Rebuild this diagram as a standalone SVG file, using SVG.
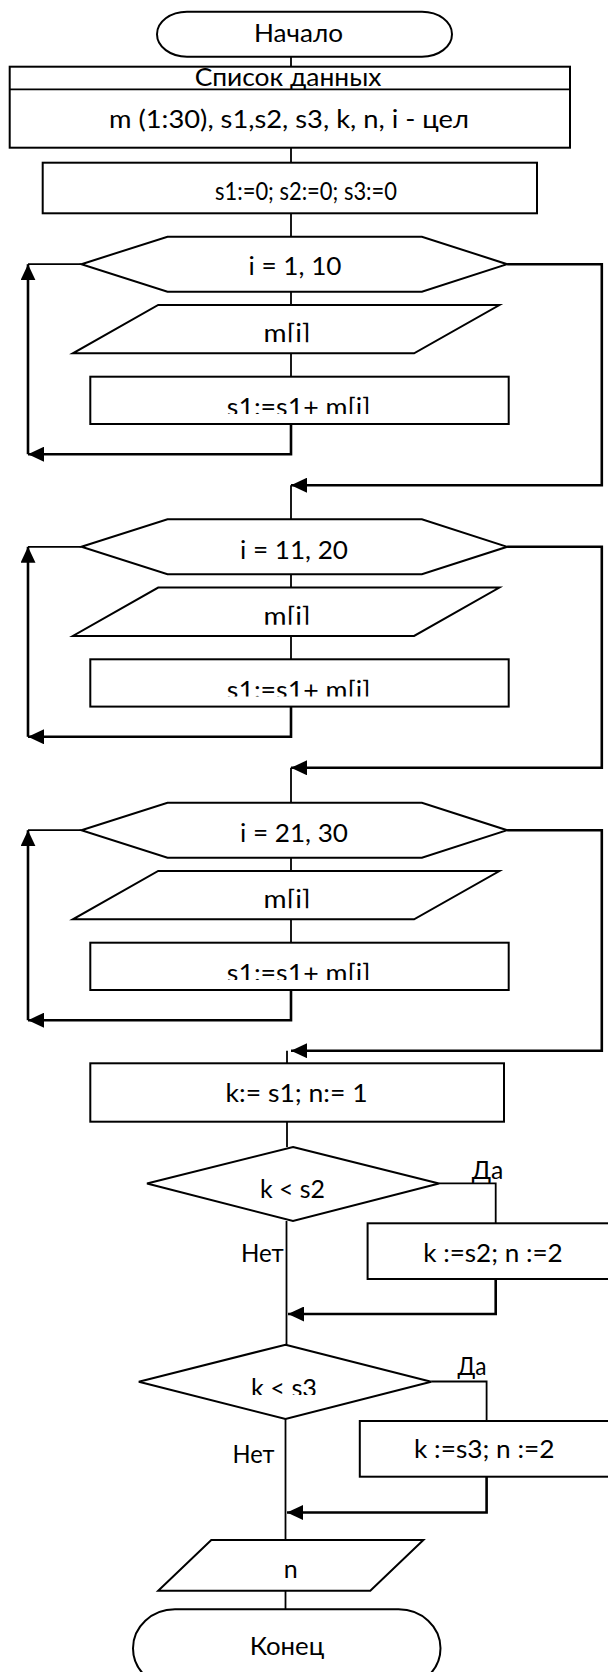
<svg xmlns="http://www.w3.org/2000/svg" width="608" height="1672" viewBox="0 0 608 1672">
<style>
.n{fill:#fff;stroke:#000;stroke-width:2}
.c{fill:none;stroke:#000;stroke-width:1.8}
.a{fill:none;stroke:#000;stroke-width:2.6}
.t{font-family:Lato,"Open Sans","Noto Sans",sans-serif;font-size:25px;fill:#000;text-anchor:middle}
</style>
<defs>
<marker id="ah" markerUnits="userSpaceOnUse" viewBox="0 0 16 15" refX="16" refY="7.5" markerWidth="16" markerHeight="15" orient="auto"><path d="M0,0 L16,7.5 L0,15 z" fill="#000"/></marker>
<clipPath id="cp1"><rect x="60" y="300" width="460" height="42.2"/></clipPath>
<clipPath id="cp2"><rect x="60" y="583" width="460" height="41.8"/></clipPath>
<clipPath id="cp3"><rect x="60" y="866" width="460" height="42.2"/></clipPath>
<clipPath id="cr1"><rect x="90" y="377" width="420" height="37"/></clipPath>
<clipPath id="cr2"><rect x="90" y="660" width="420" height="36.6"/></clipPath>
<clipPath id="cr3"><rect x="90" y="943" width="420" height="37"/></clipPath>
<clipPath id="cd2"><rect x="140" y="1345" width="290" height="50"/></clipPath>
</defs>
<rect width="608" height="1672" fill="#fff"/>
<g id="connectors">
<path class="c" d="M291,57 V67"/>
<path class="c" d="M291,147.7 V162.7"/>
<path class="c" d="M291,213.3 V236.7"/>
<path class="c" d="M291,291.7 V305"/>
<path class="c" d="M291,353.3 V376.7"/>
<path class="a" d="M291,424 V454.2 H28" marker-end="url(#ah)"/>
<path class="a" d="M28,454.2 V264.2" marker-end="url(#ah)"/>
<path class="c" d="M28,264.2 H81.4"/>
<path class="a" d="M507.2,264.2 H601.8 V485.2 H291" marker-end="url(#ah)"/>
<path class="c" d="M291,485.2 V519.3"/>
<path class="c" d="M291,574.3 V587.6"/>
<path class="c" d="M291,635.9 V659.3"/>
<path class="a" d="M291,706.6 V736.8 H28" marker-end="url(#ah)"/>
<path class="a" d="M28,736.8 V546.8" marker-end="url(#ah)"/>
<path class="c" d="M28,546.8 H81.4"/>
<path class="a" d="M507.2,546.8 H601.8 V767.8 H291" marker-end="url(#ah)"/>
<path class="c" d="M291,767.8 V802.7"/>
<path class="c" d="M291,857.7 V871"/>
<path class="c" d="M291,919.3 V942.7"/>
<path class="a" d="M291,990 V1020.2 H28" marker-end="url(#ah)"/>
<path class="a" d="M28,1020.2 V830.2" marker-end="url(#ah)"/>
<path class="c" d="M28,830.2 H81.4"/>
<path class="a" d="M507.2,830.2 H601.8 V1050.7 H291" marker-end="url(#ah)"/>
<path class="c" d="M287,1050.7 V1063.3"/>
<path class="c" d="M287,1121.7 V1147"/>
<path class="c" d="M439,1183.3 H495.7 V1223.3"/>
<path class="a" d="M495.7,1279 V1314 H288" marker-end="url(#ah)"/>
<path class="c" d="M286.5,1221 V1345"/>
<path class="c" d="M431.2,1381.5 H486.6 V1421"/>
<path class="a" d="M486.6,1476.7 V1512.5 H287" marker-end="url(#ah)"/>
<path class="c" d="M285.5,1419 V1540"/>
<path class="c" d="M285.5,1590.7 V1609.3"/>
</g>
<g id="start">
<rect class="n" x="157" y="11.7" width="295" height="45" rx="30" ry="22.5"/>
<text class="t" x="298.5" y="42" textLength="89" lengthAdjust="spacingAndGlyphs">Начало</text>
</g>
<g id="data">
<rect class="n" x="9.7" y="66.7" width="560.3" height="81"/>
<line class="c" x1="9.7" y1="89.3" x2="570" y2="89.3"/>
<text class="t" x="288" y="85.5" textLength="186.7" lengthAdjust="spacingAndGlyphs">Список данных</text>
<text class="t" x="289" y="128" textLength="360" lengthAdjust="spacingAndGlyphs">m (1:30), s1,s2, s3, k, n, i - цел</text>
</g>
<g id="init">
<rect class="n" x="42.7" y="162.7" width="494.3" height="50.6"/>
<text class="t" x="306" y="199.5" textLength="182" lengthAdjust="spacingAndGlyphs">s1:=0; s2:=0; s3:=0</text>
</g>
<g id="loop1">
<polygon class="n" points="81.4,264.2 167.5,236.7 421.9,236.7 507.2,264.2 421.9,291.7 167.5,291.7"/>
<text class="t" x="295" y="275.3" textLength="93" lengthAdjust="spacingAndGlyphs">i = 1, 10</text>
</g>
<g id="input1">
<polygon class="n" points="158.2,305 499.4,305 414.1,353.3 72.9,353.3"/>
<text class="t" x="287" y="342.2" clip-path="url(#cp1)" textLength="47" lengthAdjust="spacingAndGlyphs">m[i]</text>
</g>
<g id="sum1">
<rect class="n" x="90.3" y="376.7" width="418.4" height="47.3"/>
<text class="t" x="298.6" y="416.3" clip-path="url(#cr1)" textLength="143.5" lengthAdjust="spacingAndGlyphs">s1:=s1+ m[i]</text>
</g>
<g id="loop2">
<polygon class="n" points="81.4,546.8 167.5,519.3 421.9,519.3 507.2,546.8 421.9,574.3 167.5,574.3"/>
<text class="t" x="294" y="558.6" textLength="108" lengthAdjust="spacingAndGlyphs">i = 11, 20</text>
</g>
<g id="input2">
<polygon class="n" points="158.2,587.6 499.4,587.6 414.1,635.9 72.9,635.9"/>
<text class="t" x="287" y="624.8" clip-path="url(#cp2)" textLength="47" lengthAdjust="spacingAndGlyphs">m[i]</text>
</g>
<g id="sum2">
<rect class="n" x="90.3" y="659.3" width="418.4" height="47.3"/>
<text class="t" x="298.6" y="698.9" clip-path="url(#cr2)" textLength="143.5" lengthAdjust="spacingAndGlyphs">s1:=s1+ m[i]</text>
</g>
<g id="loop3">
<polygon class="n" points="81.4,830.2 167.5,802.7 421.9,802.7 507.2,830.2 421.9,857.7 167.5,857.7"/>
<text class="t" x="294" y="841.5" textLength="108" lengthAdjust="spacingAndGlyphs">i = 21, 30</text>
</g>
<g id="input3">
<polygon class="n" points="158.2,871 499.4,871 414.1,919.3 72.9,919.3"/>
<text class="t" x="287" y="908.2" clip-path="url(#cp3)" textLength="47" lengthAdjust="spacingAndGlyphs">m[i]</text>
</g>
<g id="sum3">
<rect class="n" x="90.3" y="942.7" width="418.4" height="47.3"/>
<text class="t" x="298.6" y="982.3" clip-path="url(#cr3)" textLength="143.5" lengthAdjust="spacingAndGlyphs">s1:=s1+ m[i]</text>
</g>
<g id="assign">
<rect class="n" x="90.3" y="1063.3" width="413.7" height="58.4"/>
<text class="t" x="296.6" y="1101.7" textLength="142" lengthAdjust="spacingAndGlyphs">k:= s1; n:= 1</text>
</g>
<g id="cond1">
<polygon class="n" points="293,1147 439,1183.5 293,1221 147,1183.5"/>
<text class="t" x="292.5" y="1198.3" textLength="65" lengthAdjust="spacingAndGlyphs">k &lt; s2</text>
<text class="t" x="487.5" y="1179.3" textLength="31.6" lengthAdjust="spacingAndGlyphs">Да</text>
<text class="t" x="262.4" y="1261.7" textLength="42.8" lengthAdjust="spacingAndGlyphs">Нет</text>
</g>
<g id="set2">
<rect class="n" x="367.6" y="1223.3" width="246" height="55.7"/>
<text class="t" x="493" y="1261.7" textLength="139.4" lengthAdjust="spacingAndGlyphs">k :=s2; n :=2</text>
</g>
<g id="cond2">
<polygon class="n" points="285.5,1344.7 431.2,1381.7 285.5,1419 138.8,1381.7"/>
<text class="t" x="284" y="1397" clip-path="url(#cd2)" textLength="66" lengthAdjust="spacingAndGlyphs">k &lt; s3</text>
<text class="t" x="472" y="1375" textLength="29" lengthAdjust="spacingAndGlyphs">Да</text>
<text class="t" x="253.5" y="1463.3" textLength="42" lengthAdjust="spacingAndGlyphs">Нет</text>
</g>
<g id="set3">
<rect class="n" x="359.8" y="1421" width="254" height="55.7"/>
<text class="t" x="484.3" y="1458.3" textLength="140.5" lengthAdjust="spacingAndGlyphs">k :=s3; n :=2</text>
</g>
<g id="output">
<polygon class="n" points="211.3,1540 423.4,1540 370.3,1590.7 158.2,1590.7"/>
<text class="t" x="290.8" y="1578">n</text>
</g>
<g id="end">
<rect class="n" x="133" y="1609.3" width="307.5" height="78" rx="42" ry="39"/>
<text class="t" x="287" y="1655" textLength="74.7" lengthAdjust="spacingAndGlyphs">Конец</text>
</g>
</svg>
